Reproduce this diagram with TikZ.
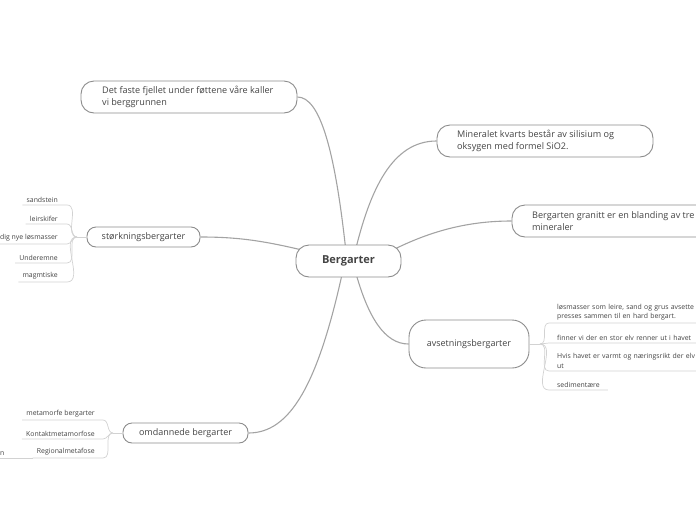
\documentclass[tikz,border=0pt]{standalone}
\usepackage{fontspec}
\setmainfont{Open Sans}
\usetikzlibrary{backgrounds,calc}
\definecolor{txt}{HTML}{444444}
\definecolor{bord}{HTML}{8C8C8C}
\definecolor{conn}{HTML}{A3A3A3}
\definecolor{leafline}{HTML}{D2D2D2}
\begin{document}
\begin{tikzpicture}[x=1pt,y=-1pt,
  box/.style={draw=bord, line width=0.9pt, rounded corners=13pt, fill=white, inner sep=0pt, text=txt},
  midtxt/.style={font=\fontsize{9}{11}\selectfont},
  bigtxt/.style={text=txt, font=\fontsize{9.1}{11.5}\selectfont, align=left, inner sep=0pt, anchor=west},
  leafL/.style={text=txt, font=\fontsize{6.9}{9.5}\selectfont, anchor=south east, inner xsep=4pt, inner ysep=2.5pt},
  leafR/.style={text=txt, font=\fontsize{6.9}{9.5}\selectfont, anchor=south west, inner xsep=8pt, inner ysep=2.5pt, align=left},
  mainconn/.style={draw=conn, line width=1.1pt},
  leafconn/.style={draw=leafline, line width=0.7pt}
]
\useasboundingbox (0,0) rectangle (696,520);
\clip (0,0) rectangle (696,520);

% central and first-level nodes
\node[box, minimum width=105pt, minimum height=32pt, font=\bfseries\fontsize{11}{12}\selectfont] (c) at (348.5,261) {Bergarter};
\node[box, minimum width=216pt, minimum height=32pt] (tl) at (189,97) {};
\node[bigtxt] (tlt) at (102,97) {Det faste fjellet under føttene våre kaller\\vi berggrunnen};
\node[box, minimum width=216pt, minimum height=32pt] (r1) at (545,141) {};
\node[bigtxt] (r1t) at (457,141) {Mineralet kvarts består av silisium og\\oksygen med formel SiO2.};
\node[box, minimum width=200pt, minimum height=32pt] (r2) at (612,221) {};
\node[bigtxt] (r2t) at (532,221) {Bergarten granitt er en blanding av tre\\mineraler};
\node[box, midtxt, minimum width=113pt, minimum height=20pt, rounded corners=9pt] (sb) at (143.5,237) {størkningsbergarter};
\node[box, midtxt, minimum width=120pt, minimum height=48pt, rounded corners=17pt] (av) at (469,344) {avsetningsbergarter};
\node[box, midtxt, minimum width=125pt, minimum height=20pt, rounded corners=9pt] (om) at (185.5,433) {omdannede bergarter};

% main connectors
\begin{pgfonlayer}{background}
\coordinate (c1) at (346,252);
\coordinate (c2) at (355,252);
\coordinate (c3) at (385,254);
\coordinate (c4) at (302,250);
\coordinate (c5) at (355,270);
\coordinate (c6) at (343,270);
\draw[mainconn] (c1) .. controls (335,150) and (320,97) .. (tl.east);
\draw[mainconn] (c2) .. controls (370,190) and (392,141) .. (r1.west);
\draw[mainconn] (c3) .. controls (430,230) and (470,221) .. (r2.west);
\draw[mainconn] (c4) .. controls (260,240) and (235,237) .. (sb.east);
\draw[mainconn] (c5) .. controls (368,318) and (385,344) .. (av.west);
\draw[mainconn] (c6) .. controls (318,385) and (290,433) .. (om.east);
\end{pgfonlayer}

% størkningsbergarter leaves
\coordinate (sbj) at (77,237);
\draw[leafconn] (sb.west) -- (sbj);
\foreach \n/\y/\t in {s1/205/sandstein, s2/224/leirskifer, s3/244/dig nye løsmasser, s4/263/Underemne, s5/282/magmtiske}{
  \node[leafL] (\n) at (62,\y) {\t};
  \draw[leafconn] (\n.south west) -- ($(\n.south east)+(5,0)$) to[out=0,in=180] (sbj);
}

% omdannede bergarter leaves
\coordinate (omj) at (113,433);
\draw[leafconn] (om.west) -- (omj);
\foreach \n/\y/\t in {o1/420/metamorfe bergarter, o2/439/Kontaktmetamorfose, o3/458/Regionalmetafose}{
  \node[leafL] (\n) at (99,\y) {\t};
  \draw[leafconn] (\n.south west) -- ($(\n.south east)+(4,0)$) to[out=0,in=180] (omj);
}
\node[leafL, anchor=south west, inner xsep=0pt] (o3n) at (0,458) {n};
\draw[leafconn] (o3n.south west) -- (o3.south west);

% avsetningsbergarter leaves
\coordinate (avj) at (540,344);
\draw[leafconn] (av.east) -- (avj);
\node[leafR, text width=200pt] (a1) at (549,323) {løsmasser som leire, sand og grus avsette\\presses sammen til en hard bergart.};
\node[leafR, text width=200pt] (a2) at (549,343) {finner vi der en stor elv renner ut i havet};
\node[leafR, text width=200pt] (a3) at (549,371) {Hvis havet er varmt og næringsrikt der elv\\ut};
\node[leafR] (a4) at (549,390) {sedimentære};
\foreach \n in {a1,a2,a3,a4}{
  \draw[leafconn] (avj) to[out=0,in=180] (\n.south west) -- (\n.south east);
}
\end{tikzpicture}
\end{document}
